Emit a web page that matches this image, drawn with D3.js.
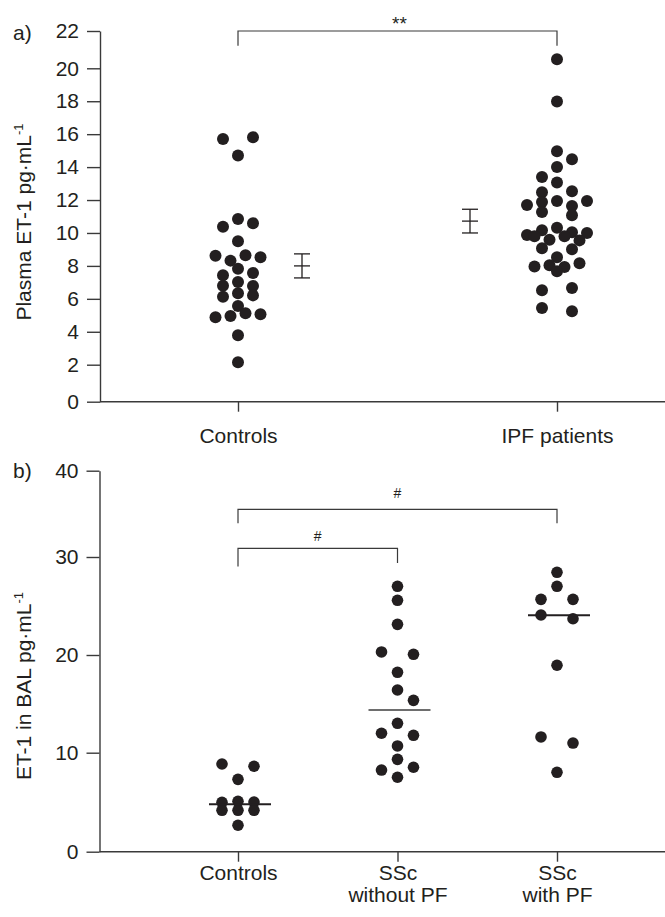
<!DOCTYPE html>
<html>
<head>
<meta charset="utf-8">
<script src="https://cdn.jsdelivr.net/npm/d3@7"></script>
<style>
  body { margin: 0; background: #fff; }
  svg { display: block; }
</style>
</head>
<body>
<svg id="chart" width="665" height="917"></svg>
<script>
// ---------------- DATA ----------------
// Panel a: plasma ET-1 (pg/mL)
const aCategories = ["Controls", "IPF patients"];
const aYTicks = [0, 2, 4, 6, 8, 10, 12, 14, 16, 18, 20, 22];
const aControls = [15.70, 15.81, 14.71, 10.85, 10.38, 10.59, 9.49, 8.62, 8.32, 8.64, 8.52,
  7.83, 7.43, 7.57, 6.80, 7.02, 6.78, 6.13, 6.34, 6.21, 5.56, 4.88, 4.96, 5.12, 5.06, 3.79, 2.15];
const aIPF = [20.48, 17.99, 14.96, 14.47, 14.00, 13.40, 13.07, 12.47, 12.53, 11.70, 11.88, 11.94,
  11.64, 11.94, 11.27, 11.07, 9.80, 9.88, 10.16, 10.32, 9.59, 9.80, 10.04, 10.00, 9.55, 9.07,
  9.01, 8.52, 7.97, 8.04, 7.67, 7.93, 8.16, 6.52, 6.66, 5.44, 5.24];
const aMean = [8.00, 10.72];
const aSEM = [0.73, 0.72];
const aSignif = "**";

// Panel b: ET-1 in BAL (pg/mL)
const bCategories = ["Controls", "SSc without PF", "SSc with PF"];
const bLabelLines = [["Controls"], ["SSc", "without PF"], ["SSc", "with PF"]];
const bYTicks = [0, 10, 20, 30, 40];
const bControls = [8.86, 8.63, 7.31, 4.99, 5.09, 5.02, 4.18, 4.18, 4.18, 2.67];
const bSScWithout = [27.01, 25.58, 23.13, 20.31, 20.07, 18.23, 16.42, 15.36, 13.01, 11.99,
  11.78, 10.69, 9.33, 8.25, 8.53, 7.52];
const bSScWith = [28.44, 27.01, 25.68, 25.68, 24.08, 23.70, 18.95, 11.61, 10.99, 8.02];
const bMedian = [4.79, 14.37, 24.05];
const bSignif = ["#", "#"];

// ---------------- LAYOUT / STYLE ----------------
const FONT = '"Liberation Sans", Arial, Helvetica, sans-serif';
const TXT = "#231f20";
const AX = "#3a3a3a";
const svg = d3.select("#chart");

function styleAxis(g) {
  g.attr("font-family", FONT).attr("font-size", 21);
  g.selectAll("path, line").attr("stroke", AX).attr("stroke-width", 1.4);
  g.selectAll("text").attr("fill", TXT);
}

// Beeswarm-like row layout (dot-plot style)
function swarm(values, y, cx, w, gapT, D, maxRow) {
  const order = d3.range(values.length).sort((a, b) => values[b] - values[a] || a - b);
  const rows = [];
  let prev = null;
  for (const i of order) {
    const py = y(values[i]);
    if (prev !== null && py - prev <= gapT) rows[rows.length - 1].push(i);
    else rows.push([i]);
    prev = py;
  }
  const rows2 = [];
  rows.forEach(r => {
    if (r.length <= maxRow) rows2.push(r);
    else {
      const n = Math.ceil(r.length / maxRow), size = Math.ceil(r.length / n);
      for (let s = 0; s < r.length; s += size) rows2.push(r.slice(s, s + size));
    }
  });
  const out = [], placed = [];
  let side = 1;
  rows2.forEach(r => {
    if (r.length === 1) {
      const i = r[0], py = y(values[i]);
      const hit = o => placed.some(p => Math.abs(p.o - o) < 0.5 && Math.abs(p.y - py) < D);
      let off = 0;
      if (hit(0)) {
        outer: for (let m = 1; m < 6; m++) for (const s of [side, -side]) {
          if (!hit(s * m * w)) { off = s * m * w; break outer; }
        }
        side = -side;
      }
      placed.push({ o: off, y: py });
      out.push({ i, v: values[i], x: cx + off, y: py });
    } else {
      const idx = r.slice().sort((a, b) => a - b), k = idx.length;
      idx.forEach((i, j) => {
        const off = k === 2 ? (j === 0 ? -w : w) : (j - (k - 1) / 2) * w;
        const py = y(values[i]);
        placed.push({ o: off, y: py });
        out.push({ i, v: values[i], x: cx + off, y: py });
      });
    }
  });
  return out;
}

// ================= PANEL A =================
const axisXA = 100;
const yA = d3.scaleLinear().domain([0, 2, 20, 22]).range([401.7, 364.7, 68.3, 31]);
const xA = d3.scalePoint().domain(aCategories).range([238, 557]);

const gA = svg.append("g");
gA.append("g").attr("transform", `translate(${axisXA},0)`)
  .call(d3.axisLeft(yA).tickValues(aYTicks).tickSize(13).tickPadding(8).tickSizeOuter(0))
  .call(styleAxis);

gA.append("g").attr("transform", `translate(0,${yA(0)})`)
  .call(d3.axisBottom(xA).tickSize(10).tickPadding(16))
  .call(g => g.select(".domain").remove())
  .call(styleAxis);
gA.append("line").attr("x1", axisXA).attr("x2", 665).attr("y1", yA(0)).attr("y2", yA(0))
  .attr("stroke", AX).attr("stroke-width", 1.4);

// y label
const labA = gA.append("text").attr("transform", "translate(31,222) rotate(-90)")
  .attr("text-anchor", "middle").attr("font-family", FONT).attr("font-size", 21).attr("fill", TXT);
labA.append("tspan").text("Plasma ET-1 pg\u00B7mL");
labA.append("tspan").text("-1").attr("font-size", 13).attr("dy", -8);

gA.append("text").attr("x", 13).attr("y", 40).text("a)")
  .attr("font-family", FONT).attr("font-size", 21).attr("fill", TXT);

// dots
const aGroups = [aControls, aIPF];
aGroups.forEach((vals, gi) => {
  const pts = swarm(vals, yA, xA(aCategories[gi]), 15, 4, 11, 5);
  gA.append("g").selectAll("circle").data(pts).join("circle")
    .attr("cx", d => d.x).attr("cy", d => d.y).attr("r", 6).attr("fill", TXT);
});

// mean ± SEM error bars
const errOffset = [64, -87];
aCategories.forEach((c, i) => {
  const x = xA(c) + errOffset[i];
  const g = gA.append("g").attr("stroke", TXT).attr("stroke-width", 1.3);
  g.append("line").attr("x1", x).attr("x2", x)
    .attr("y1", yA(aMean[i] + aSEM[i])).attr("y2", yA(aMean[i] - aSEM[i]));
  [aMean[i] + aSEM[i], aMean[i], aMean[i] - aSEM[i]].forEach(v => {
    g.append("line").attr("x1", x - 8).attr("x2", x + 8).attr("y1", yA(v)).attr("y2", yA(v));
  });
});

// significance bracket
{
  const x1 = xA(aCategories[0]), x2 = xA(aCategories[1]);
  const top = yA(22), drop = 45.7;
  gA.append("path").attr("d", `M${x1},${drop}V${top}H${x2}V${drop}`)
    .attr("fill", "none").attr("stroke", AX).attr("stroke-width", 1.2);
  gA.append("text").attr("x", (x1 + x2) / 2 + 2).attr("y", 30).attr("text-anchor", "middle")
    .attr("font-family", FONT).attr("font-size", 19).attr("fill", TXT).text(aSignif);
}

// ================= PANEL B =================
const axisXB = 99.5;
const yB = d3.scaleLinear().domain([0, 10, 20, 30, 40]).range([851.7, 752.7, 655, 557, 470.7]);
const xB = d3.scalePoint().domain(bCategories).range([238, 557]);

const gB = svg.append("g");
gB.append("g").attr("transform", `translate(${axisXB},0)`)
  .call(d3.axisLeft(yB).tickValues(bYTicks).tickSize(13).tickPadding(8).tickSizeOuter(0))
  .call(styleAxis);

const xAxB = gB.append("g").attr("transform", `translate(0,${yB(0)})`)
  .call(d3.axisBottom(xB).tickSize(10).tickPadding(18.4))
  .call(g => g.select(".domain").remove())
  .call(styleAxis);
xAxB.selectAll(".tick text").each(function (d, i) {
  const t = d3.select(this);
  t.text(null);
  bLabelLines[i].forEach((line, j) => {
    t.append("tspan").attr("x", 0).attr("dy", j === 0 ? 0 : 22.3).text(line);
  });
});
gB.append("line").attr("x1", axisXB).attr("x2", 665).attr("y1", yB(0)).attr("y2", yB(0))
  .attr("stroke", AX).attr("stroke-width", 1.4);

const labB = gB.append("text").attr("transform", "translate(31,686) rotate(-90)")
  .attr("text-anchor", "middle").attr("font-family", FONT).attr("font-size", 21).attr("fill", TXT);
labB.append("tspan").text("ET-1 in BAL pg\u00B7mL");
labB.append("tspan").text("-1").attr("font-size", 13).attr("dy", -8);

gB.append("text").attr("x", 13).attr("y", 478).text("b)")
  .attr("font-family", FONT).attr("font-size", 21).attr("fill", TXT);

const bGroups = [bControls, bSScWithout, bSScWith];
bGroups.forEach((vals, gi) => {
  const pts = swarm(vals, yB, xB(bCategories[gi]), 16, 6.5, 11, 5);
  gB.append("g").selectAll("circle").data(pts).join("circle")
    .attr("cx", d => d.x).attr("cy", d => d.y).attr("r", 5.8).attr("fill", TXT);
});

// medians
const medianColor = [TXT, "#6e6e6e", TXT];
bCategories.forEach((c, i) => {
  const x = xB(c);
  gB.append("line").attr("x1", x - 29).attr("x2", x + 33)
    .attr("y1", yB(bMedian[i])).attr("y2", yB(bMedian[i]))
    .attr("stroke", medianColor[i]).attr("stroke-width", 2);
});

// brackets
function bracket(g, x1, x2, top, dropL, dropR, label, labelY, size) {
  g.append("path").attr("d", `M${x1},${dropL}V${top}H${x2}V${dropR}`)
    .attr("fill", "none").attr("stroke", AX).attr("stroke-width", 1.2);
  g.append("text").attr("x", (x1 + x2) / 2).attr("y", labelY).attr("text-anchor", "middle")
    .attr("font-family", FONT).attr("font-size", size).attr("fill", TXT).text(label);
}
bracket(gB, xB(bCategories[0]), xB(bCategories[2]), 509.3, 523.3, 523.3, bSignif[0], 498.3, 14);
bracket(gB, xB(bCategories[0]), xB(bCategories[1]), 548.3, 566.5, 563, bSignif[1], 540.7, 14);
</script>
</body>
</html>
